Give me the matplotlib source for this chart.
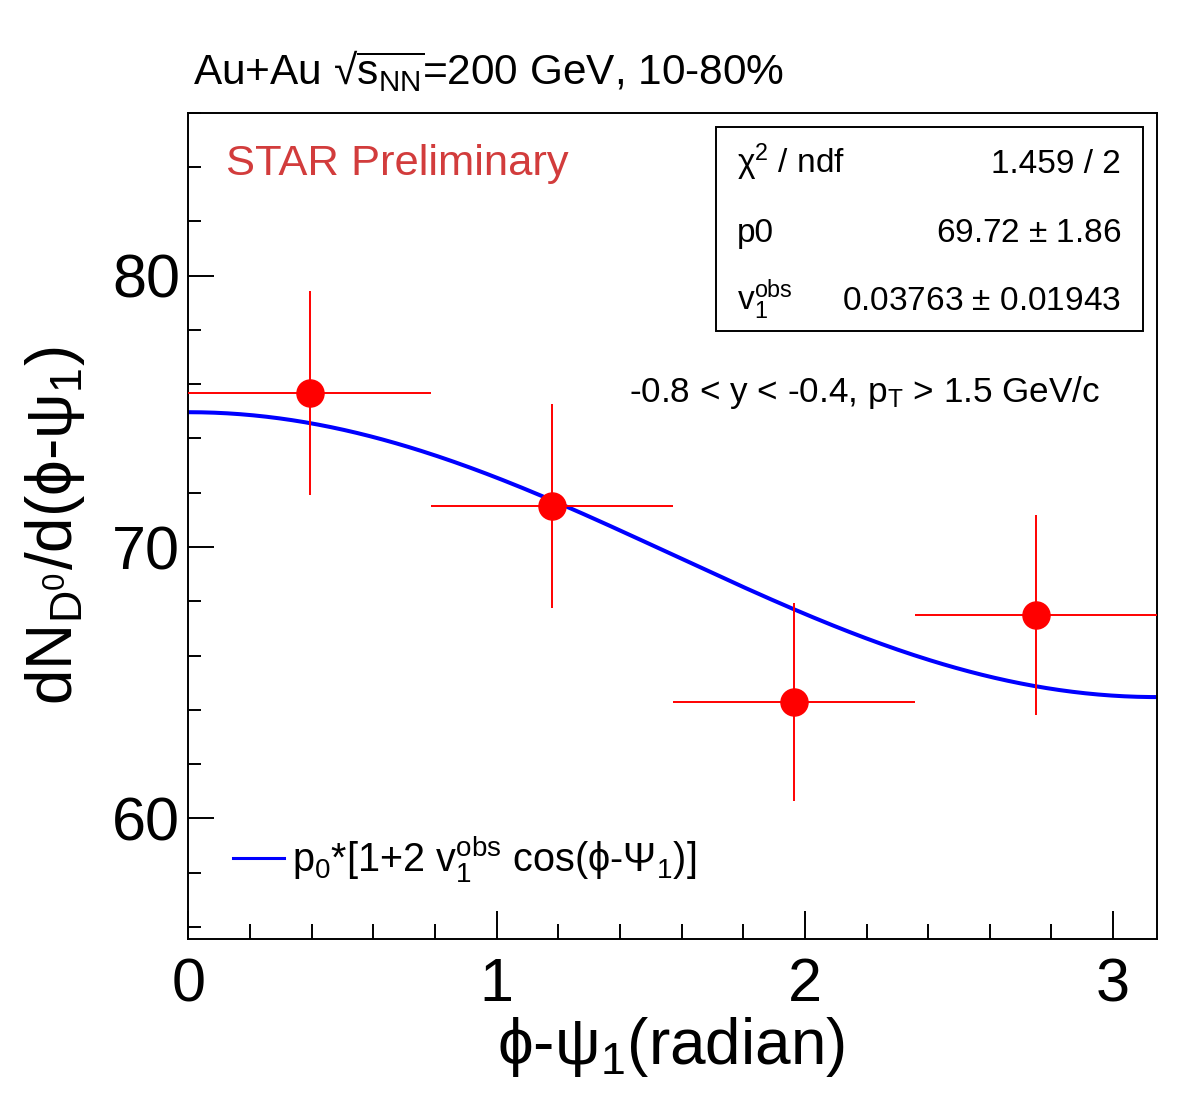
import numpy as np
import matplotlib
matplotlib.use("Agg")
from matplotlib import pyplot as plt
from matplotlib.patches import Rectangle

plt.rcParams['font.family'] = ['Liberation Sans', 'DejaVu Sans']
plt.rcParams['mathtext.fontset'] = 'custom'
plt.rcParams['mathtext.rm'] = 'Liberation Sans'
plt.rcParams['mathtext.it'] = 'Liberation Sans'
plt.rcParams['mathtext.sf'] = 'Liberation Sans'
plt.rcParams['mathtext.fallback'] = 'stix'
plt.rcParams['mathtext.default'] = 'regular'

# data
phi_center = [0.3927, 1.1781, 1.9635, 2.7489]
phi_halfwidth = [0.3927, 0.3927, 0.3927, 0.3927]
dn_dphi = [75.67, 71.50, 64.28, 67.49]
dn_err = [3.77, 3.76, 3.65, 3.69]

# fit result (stats box)
p0 = 69.72
p0_err = 1.86
v1 = 0.03763
v1_err = 0.01943
chi2 = 1.459
ndf = 2

W, H = 1182, 1119
def fx(px):
    return px / W
def fy(py):
    return 1 - py / H

fig = plt.figure(figsize=(W / 100, H / 100), dpi=100)
ax = fig.add_axes([fx(188.5), fy(939.3), fx(1156.7) - fx(188.5), fy(112.7) - fy(939.3)])

xs = np.linspace(0, np.pi, 300)
fit = p0 * (1 + 2 * v1 * np.cos(xs))
ax.plot(xs, fit, color='#0000ff', lw=2.9, zorder=2,
        label=r'p$_{0}$*[1+2 v$_{1}^{obs}$ cos($\phi$-$\Psi_{1}$)]')

ax.errorbar(phi_center, dn_dphi, xerr=phi_halfwidth, yerr=dn_err, fmt='o',
            color='#ff0000', ms=19.5, elinewidth=1.4, capsize=0, zorder=3)

ax.set_xlim(0, np.pi)
ax.set_ylim(55.55, 86.0)
ax.set_xticks([0, 1, 2, 3])
ax.set_xticks(np.arange(0, 3.15, 0.2), minor=True)
ax.set_yticks([60, 70, 80])
ax.set_yticks(np.arange(56, 86.1, 2), minor=True)
ax.tick_params(axis='both', which='both', direction='in', width=1.4,
               top=False, right=False, labelsize=44)
ax.tick_params(axis='x', which='major', length=20.5, pad=13)
ax.tick_params(axis='x', which='minor', length=10.5)
ax.tick_params(axis='y', which='major', length=19, pad=6)
ax.tick_params(axis='y', which='minor', length=9.5)
for sp in ax.spines.values():
    sp.set_linewidth(1.4)

fig.text(fx(671), fy(1064), r'$\phi$-$\psi_{1}$(radian)', fontsize=46,
         ha='center', va='baseline')
fig.text(fx(72), fy(526), r'dN$_{D^{0}}$/d($\phi$-$\psi_{1}$)', fontsize=46,
         ha='center', va='baseline', rotation=90, rotation_mode='anchor')

fig.text(fx(193), fy(85), r'Au+Au √$\overline{s_{NN}}$=200 GeV, 10-80%', fontsize=30.5,
         ha='left', va='baseline')
fig.text(fx(226), fy(175), 'STAR Preliminary', fontsize=31.3, color='#d23c3c',
         ha='left', va='baseline')
fig.text(fx(629), fy(402), r'-0.8 < y < -0.4, p$_{T}$ > 1.5 GeV/c', fontsize=25.3,
         ha='left', va='baseline')

# stats box
box = Rectangle((fx(716), fy(331)), fx(1143) - fx(716), fy(127) - fy(331),
                transform=fig.transFigure, fill=True, facecolor='white',
                edgecolor='black', lw=1.4, zorder=5)
fig.patches.append(box)
rows = [(r'$\chi^{2}$ / ndf', '{:.3f} / {}'.format(chi2, ndf), 173),
        ('p0', '{:.2f} $\\pm$ {:.2f}'.format(p0, p0_err), 242),
        (r'v$_{1}^{obs}$', '{:.5f} $\\pm$ {:.5f}'.format(v1, v1_err), 310)]
for left, right, yb in rows:
    fig.text(fx(737), fy(yb), left, fontsize=24, ha='left', va='baseline', zorder=6)
    fig.text(fx(1121), fy(yb), right, fontsize=24, ha='right', va='baseline', zorder=6)

leg = ax.legend(loc='lower left', bbox_to_anchor=(fx(233), fy(885)),
                bbox_transform=fig.transFigure, frameon=False, fontsize=28.5,
                handlelength=1.3, handletextpad=0.2, borderpad=0, borderaxespad=0)
for ln in leg.get_lines():
    ln.set_linewidth(2.2)

fig.savefig('out.png', dpi=100)
